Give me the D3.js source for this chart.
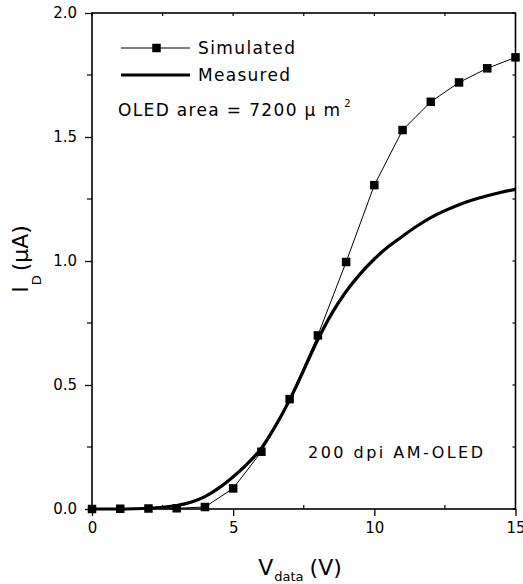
<!DOCTYPE html>
<html><head><meta charset="utf-8">
<script src="https://cdn.jsdelivr.net/npm/d3@7"></script>
<style>body{margin:0;background:#fff}svg{display:block}text{font-family:"DejaVu Sans",sans-serif;fill:#000}</style>
</head><body>
<svg id="c" width="523" height="584"></svg>
<script>
// Data
const simV = [0,1,2,3,4,5,6,7,8,9,10,11,12,13,14,15];
const simI = [0,0.001,0.002,0.003,0.008,0.083,0.231,0.443,0.700,0.996,1.306,1.528,1.642,1.720,1.777,1.821];
const measV = [0,0.5,1,1.5,2,2.5,3,3.5,4,4.5,5,5.5,6,6.5,7,7.5,8,8.5,9,9.5,10,10.5,11,11.5,12,12.5,13,13.5,14,14.5,15];
const measI = [0,0,0,0.001,0.003,0.007,0.014,0.027,0.05,0.085,0.13,0.182,0.245,0.335,0.44,0.56,0.683,0.79,0.877,0.948,1.008,1.058,1.10,1.14,1.175,1.203,1.227,1.247,1.263,1.277,1.289];
const xTicks = [0,5,10,15];
const yTicks = [0,0.5,1.0,1.5,2.0];
const xMinor = [2.5,7.5,12.5];
const yMinor = [0.25,0.75,1.25,1.75];
const legendLabels = ["Simulated","Measured"];

const svg = d3.select("#c");
const x = d3.scaleLinear().domain([0,15]).range([92,515.5]);
const y = d3.scaleLinear().domain([0,2]).range([509,13]);

// frame
svg.append("rect").attr("x",92).attr("y",13).attr("width",423.5).attr("height",496)
  .attr("fill","none").attr("stroke","#000").attr("stroke-width",1.6);

// bottom axis
const gb = svg.append("g").attr("transform","translate(0,509)")
  .call(d3.axisBottom(x).tickValues(xTicks).tickFormat(d3.format("d")).tickSize(7).tickPadding(6));
gb.select(".domain").remove();
gb.selectAll("line").attr("stroke-width",1.3);
gb.selectAll("text").attr("font-size",15).style("font-family","DejaVu Sans");
svg.append("g").selectAll("line").data(xMinor).join("line")
  .attr("x1",d=>x(d)).attr("x2",d=>x(d)).attr("y1",509).attr("y2",505).attr("stroke","#000").attr("stroke-width",1.2);
// left axis
const gl = svg.append("g").attr("transform","translate(92,0)")
  .call(d3.axisLeft(y).tickValues(yTicks).tickFormat(d3.format(".1f")).tickSize(7).tickPadding(8));
gl.select(".domain").remove();
gl.selectAll("line").attr("stroke-width",1.3);
gl.selectAll("text").attr("font-size",15).style("font-family","DejaVu Sans");
svg.append("g").selectAll("line").data(yMinor).join("line")
  .attr("y1",d=>y(d)).attr("y2",d=>y(d)).attr("x1",87).attr("x2",92).attr("stroke","#000").attr("stroke-width",1.2);
// top & right inward ticks
const allX = xTicks.concat(xMinor), allY = yTicks.concat(yMinor);
svg.append("g").selectAll("line").data(allX).join("line")
  .attr("x1",d=>x(d)).attr("x2",d=>x(d)).attr("y1",13).attr("y2",16).attr("stroke","#000").attr("stroke-width",1.2);
svg.append("g").selectAll("line").data(allY).join("line")
  .attr("y1",d=>y(d)).attr("y2",d=>y(d)).attr("x1",515.5).attr("x2",512.5).attr("stroke","#000").attr("stroke-width",1.2);

// measured
const lineM = d3.line().x((d,i)=>x(measV[i])).y(d=>y(d)).curve(d3.curveMonotoneX);
svg.append("path").attr("d",lineM(measI)).attr("fill","none").attr("stroke","#000").attr("stroke-width",3.2);
// simulated
const lineS = d3.line().x((d,i)=>x(simV[i])).y(d=>y(d));
svg.append("path").attr("d",lineS(simI)).attr("fill","none").attr("stroke","#000").attr("stroke-width",1);
const sq = 8.5;
svg.append("g").selectAll("rect").data(simI).join("rect")
  .attr("x",(d,i)=>x(simV[i])-sq/2).attr("y",d=>y(d)-sq/2).attr("width",sq).attr("height",sq).attr("fill","#000");

// legend
svg.append("line").attr("x1",121).attr("x2",190).attr("y1",48).attr("y2",48).attr("stroke","#000").attr("stroke-width",1);
svg.append("rect").attr("x",156.5-sq/2).attr("y",48-sq/2).attr("width",sq).attr("height",sq).attr("fill","#000");
svg.append("line").attr("x1",121).attr("x2",190).attr("y1",75).attr("y2",75).attr("stroke","#000").attr("stroke-width",3.2);
svg.append("text").attr("x",198).attr("y",54).attr("font-size",17).attr("textLength",97).attr("lengthAdjust","spacing").text(legendLabels[0]);
svg.append("text").attr("x",198).attr("y",81).attr("font-size",17).attr("textLength",92).attr("lengthAdjust","spacing").text(legendLabels[1]);

// annotations
const ann = svg.append("text").attr("x",118).attr("y",116).attr("font-size",17);
ann.append("tspan").attr("textLength",222).attr("lengthAdjust","spacing").text("OLED area = 7200 μ m");
ann.append("tspan").attr("font-size",10).attr("dy",-9).attr("dx",3).text("2");
svg.append("text").attr("x",308).attr("y",458).attr("font-size",16).attr("textLength",175).attr("lengthAdjust","spacing").text("200 dpi AM-OLED");

// axis titles
const xt = svg.append("text").attr("x",300).attr("y",575).attr("text-anchor","middle").attr("font-size",22);
xt.append("tspan").text("V");
xt.append("tspan").attr("font-size",13).attr("dy",6).attr("dx",1).text("data");
xt.append("tspan").attr("dy",-6).attr("dx",6).text("(V)");

const yt = svg.append("text").attr("transform","translate(28,259) rotate(-90)").attr("text-anchor","middle").attr("font-size",22);
yt.append("tspan").text("I");
yt.append("tspan").attr("font-size",13).attr("dy",13).attr("dx",1).text("D");
yt.append("tspan").attr("dy",-13).attr("dx",4).text("(μA)");
</script>
</body></html>
